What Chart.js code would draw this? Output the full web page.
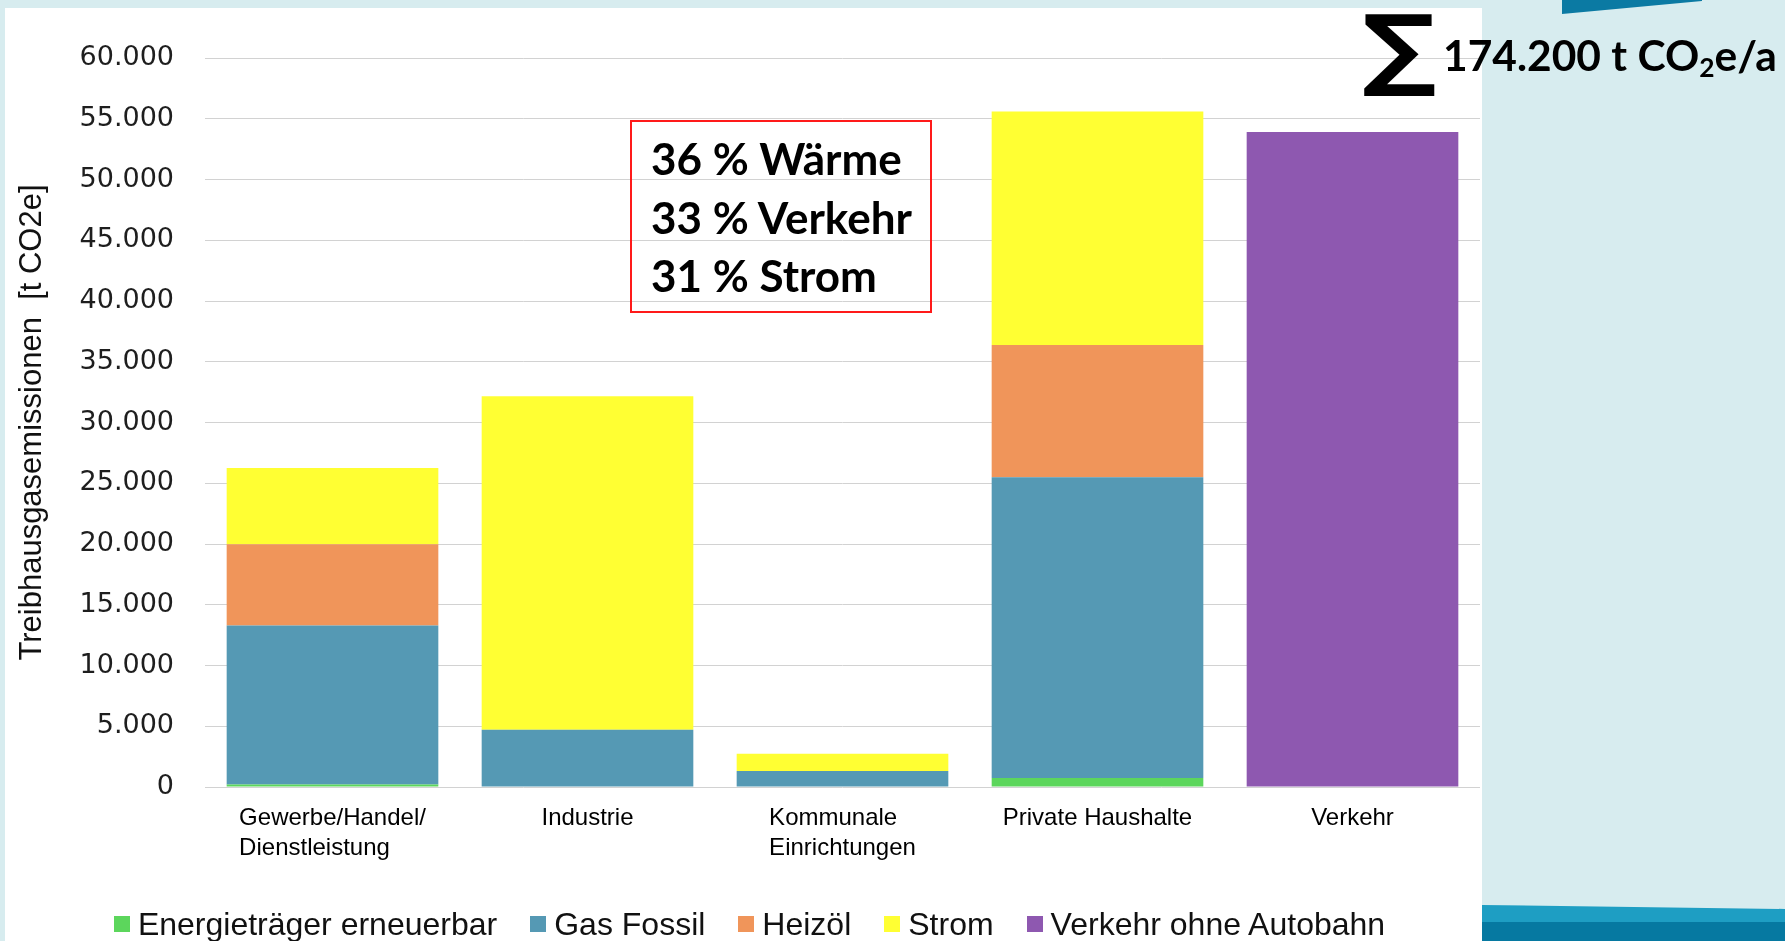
<!DOCTYPE html>
<html lang="de">
<head>
<meta charset="utf-8">
<script src="https://cdn.jsdelivr.net/npm/chart.js@4.4.1/dist/chart.umd.min.js"></script>
<style>
  html, body { margin: 0; padding: 0; }
  body { width: 1785px; height: 941px; background: #d7ecef; position: relative; overflow: hidden; }
  #panel { position: absolute; left: 5px; top: 8px; width: 1477px; height: 933px; background: #ffffff; }
  #chart { position: absolute; left: 0; top: 0; }
  .band { position: absolute; }
  #legend { position: absolute; left: 0; top: 890px; width: 1477px; height: 52px; display: flex; justify-content: center; align-items: center; gap: 33px;
            padding-left: 12px; box-sizing: border-box;
            font-family: "Liberation Sans", Arial, sans-serif; font-size: 32px; color: #111; }
  #legend .item { display: flex; align-items: center; white-space: nowrap; }
  #legend .box { width: 16px; height: 16px; margin-right: 8px; }
  #redbox { position: absolute; left: 630px; top: 120px; width: 302px; height: 193px; border: 2px solid #ff1a1a; background: transparent;
            font-family: Lato, "Open Sans", sans-serif; font-weight: 700; font-size: 44px; line-height: 58.5px; color: #000;
            padding: 7px 0 0 19px; box-sizing: border-box; }
  #redbox div { white-space: nowrap; }
  #sigma { position: absolute; left: 1362px; top: 3px; font-family: "DejaVu Sans", sans-serif; font-weight: 700; font-size: 90px; line-height: 1; color: #000;
           transform: scaleX(1.15); transform-origin: left top; }
  #sum { position: absolute; left: 1443px; top: 30px; font-family: Lato, "Open Sans", sans-serif; font-weight: 700; font-size: 42.5px; line-height: 49px; color: #000; white-space: nowrap; }
  #sum sub { font-size: 0.62em; vertical-align: -0.22em; line-height: 0; }
</style>
</head>
<body>
<div class="band" style="left:1482px; top:0; width:303px; height:941px; background:#d7ecef;"></div>
<div class="band" style="left:1562px; top:0; width:140px; height:14px; background:#0b7aa3; clip-path: polygon(0 0, 100% 0, 100% 8%, 0 100%);"></div>
<div class="band" style="left:1482px; top:905px; width:303px; height:36px; background:#1e9ec3; clip-path: polygon(0 0, 100% 11%, 100% 100%, 0 100%);"></div>
<div class="band" style="left:1482px; top:922px; width:303px; height:19px; background:#0679a1;"></div>

<div id="panel">
  <canvas id="chart" width="1477" height="933"></canvas>
  <div id="legend"></div>
</div>

<div id="redbox">
  <div>36 % Wärme</div>
  <div>33 % Verkehr</div>
  <div>31 % Strom</div>
</div>
<div id="sigma">∑</div>
<div id="sum">174.200 t CO<sub>2</sub>e/a</div>

<script>
// ---- data ----
const categories = [['Gewerbe/Handel/', 'Dienstleistung'], 'Industrie', ['Kommunale', 'Einrichtungen'], 'Private Haushalte', 'Verkehr'];
const seriesNames = ['Energieträger erneuerbar', 'Gas Fossil', 'Heizöl', 'Strom', 'Verkehr ohne Autobahn'];
const erneuerbar = [200, 0, 0, 740, 0];
const gasFossil  = [13100, 4720, 1320, 24760, 0];
const heizoel    = [6670, 0, 0, 10875, 0];
const strom      = [6280, 27440, 1420, 19220, 0];
const verkehr    = [0, 0, 0, 0, 53900];
const seriesColors = ['#5cd65c', '#5599b4', '#f0955a', '#ffff33', '#8e58b0'];
const yMin = 0, yMax = 60000, yStep = 5000;
const yTitle = 'Treibhausgasemissionen  [t CO2e]';

const seriesData = [erneuerbar, gasFossil, heizoel, strom, verkehr];

function fmtDE(v) { return String(v).replace(/\B(?=(\d{3})+(?!\d))/g, '.'); }

// HTML legend
const legendEl = document.getElementById('legend');
seriesNames.forEach((n, i) => {
  const it = document.createElement('div'); it.className = 'item';
  const b = document.createElement('span'); b.className = 'box'; b.style.background = seriesColors[i];
  const t = document.createElement('span'); t.textContent = n;
  it.appendChild(b); it.appendChild(t); legendEl.appendChild(it);
});

const xLabelPlugin = {
  id: 'xLabels',
  afterDraw(chart) {
    const ctx = chart.ctx, xs = chart.scales.x, bottom = chart.chartArea.bottom;
    ctx.save();
    ctx.font = '24px "Liberation Sans", Arial, sans-serif';
    ctx.fillStyle = '#000';
    ctx.textBaseline = 'middle';
    ctx.textAlign = 'left';
    chart.data.labels.forEach((lab, i) => {
      const lines = Array.isArray(lab) ? lab : [lab];
      const w = Math.max(...lines.map(l => ctx.measureText(l).width));
      const cx = xs.getPixelForValue(i);
      lines.forEach((l, k) => ctx.fillText(l, cx - w / 2, bottom + 31 + k * 30));
    });
    ctx.restore();
  }
};

new Chart(document.getElementById('chart'), {
  type: 'bar',
  data: {
    labels: categories,
    datasets: seriesNames.map((n, i) => ({
      label: n,
      data: seriesData[i],
      backgroundColor: seriesColors[i],
      borderWidth: 0,
      barPercentage: 0.83,
      categoryPercentage: 1.0
    }))
  },
  options: {
    responsive: false,
    devicePixelRatio: 1,
    animation: false,
    layout: { padding: { top: 50, right: 2, left: 0, bottom: 0 } },
    plugins: { legend: { display: false }, tooltip: { enabled: false } },
    scales: {
      x: {
        stacked: true,
        grid: { display: false, drawTicks: false },
        border: { display: false },
        ticks: { display: false },
        afterFit(s) { s.height = 154; }
      },
      y: {
        stacked: true,
        min: yMin, max: yMax,
        grid: { color: '#d2d2d2', lineWidth: 1, drawTicks: false },
        border: { display: false },
        ticks: {
          stepSize: yStep,
          padding: 31,
          color: '#1e1e1e',
          font: { family: '"DejaVu Sans", Verdana, sans-serif', size: 27 },
          callback: v => fmtDE(v)
        },
        title: {
          display: true,
          text: yTitle,
          color: '#111',
          padding: { top: 9, bottom: 0 },
          font: { family: '"Liberation Sans", Arial, sans-serif', size: 31 }
        },
        afterFit(s) { s.width = 200; }
      }
    }
  },
  plugins: [xLabelPlugin]
});
</script>
</body>
</html>
